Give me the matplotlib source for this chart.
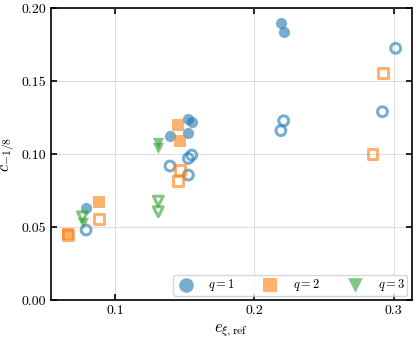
import numpy as np
import matplotlib.pyplot as plt

plt.rcParams['font.family'] = 'serif'
plt.rcParams['font.serif'] = ['cmr10']
plt.rcParams['mathtext.fontset'] = 'cm'
plt.rcParams['axes.formatter.use_mathtext'] = True

# q = 1 (circles)
q1_filled_x = [0.219, 0.221, 0.1394, 0.1526, 0.155, 0.1526, 0.0792]
q1_filled_y = [0.190, 0.1836, 0.1123, 0.1237, 0.1221, 0.1146, 0.0628]
q1_open_x = [0.3014, 0.2919, 0.221, 0.219, 0.1394, 0.1526, 0.155, 0.1526, 0.0792]
q1_open_y = [0.1724, 0.129, 0.1228, 0.116, 0.0918, 0.097, 0.0993, 0.0856, 0.048]

# q = 2 (squares)
q2_filled_x = [0.1454, 0.1466, 0.0883, 0.0661]
q2_filled_y = [0.1199, 0.1091, 0.0669, 0.0455]
q2_open_x = [0.2923, 0.2847, 0.1466, 0.1454, 0.0883, 0.0661]
q2_open_y = [0.1553, 0.100, 0.089, 0.0815, 0.0553, 0.0445]

# q = 3 (triangles)
q3_filled_x = [0.131, 0.131, 0.077]
q3_filled_y = [0.1078, 0.1039, 0.0527]
q3_open_x = [0.131, 0.131, 0.0766]
q3_open_y = [0.0678, 0.0605, 0.057]

labels = ['$q = 1$', '$q = 2$', '$q = 3$']
colors = ['#1f77b4', '#ff7f0e', '#2ca02c']
markers = ['o', 's', 'v']

fig = plt.figure(figsize=(4.16, 3.41), dpi=100)
ax = fig.add_axes([0.1226, 0.12, 0.8674, 0.8565])

groups = [
    (q1_filled_x, q1_filled_y, q1_open_x, q1_open_y),
    (q2_filled_x, q2_filled_y, q2_open_x, q2_open_y),
    (q3_filled_x, q3_filled_y, q3_open_x, q3_open_y),
]
for (fx, fy, ox, oy), lab, c, m in zip(groups, labels, colors, markers):
    ax.scatter(fx, fy, s=65, marker=m, color=c, alpha=0.6, linewidths=0, label=lab, zorder=3)
    ax.scatter(ox, oy, s=50, marker=m, facecolors='none', edgecolors=c, alpha=0.6, linewidths=2.2, zorder=3)

ax.set_xlim(0.054, 0.313)
ax.set_ylim(0, 0.2)
ax.set_xticks([0.1, 0.2, 0.3])
ax.set_yticks([0, 0.05, 0.1, 0.15, 0.2])
ax.set_xticklabels(['0.1', '0.2', '0.3'])
ax.set_yticklabels(['0.00', '0.05', '0.10', '0.15', '0.20'])
ax.tick_params(direction='in', top=True, right=True, labelsize=10, width=1.2, length=4.5)
for sp in ax.spines.values():
    sp.set_linewidth(1.2)
ax.grid(True, color='#dddddd', linewidth=0.8)
ax.set_axisbelow(True)
ax.set_xlabel(r'$e_{\xi,\mathrm{ref}}$', fontsize=12)
ax.set_ylabel(r'$c_{-1/8}$', fontsize=12, labelpad=3)
ax.legend(loc='lower right', ncol=3, fontsize=9, markerscale=1.3, columnspacing=2.0,
          handletextpad=1.0, borderpad=0.2, borderaxespad=0.35, handlelength=1.6)

fig.savefig('out.png')
